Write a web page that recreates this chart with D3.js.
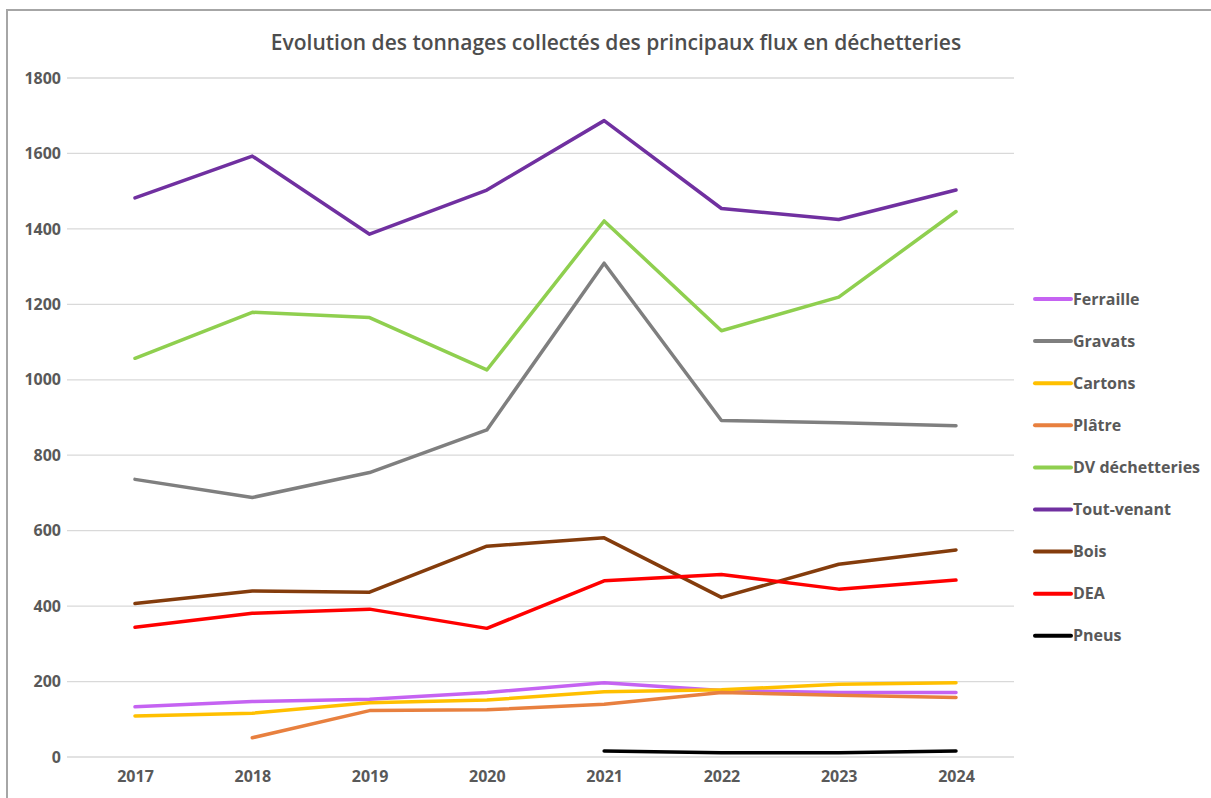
<!DOCTYPE html>
<html>
<head>
<meta charset="utf-8">
<script src="https://cdn.jsdelivr.net/npm/d3@7"></script>
<style>
  body { margin: 0; background: #fff; }
  svg { display: block; font-family: "Open Sans", sans-serif; }
</style>
</head>
<body>
<svg id="chart" width="1211" height="798"></svg>
<script>
// data
var years = ["2017", "2018", "2019", "2020", "2021", "2022", "2023", "2024"];
var yTicks = [0, 200, 400, 600, 800, 1000, 1200, 1400, 1600, 1800];

var ferraille   = [133, 147, 153, 171, 197, 176, 171, 171];
var gravats     = [736, 688, 754, 867, 1309, 892, 886, 878];
var cartons     = [109, 116, 144, 151, 173, 178, 193, 197];
var platre      = [null, 51, 123, 125, 140, 171, 164, 158];
var dvDech      = [1057, 1179, 1165, 1026, 1421, 1130, 1219, 1446];
var toutVenant  = [1482, 1593, 1386, 1503, 1687, 1454, 1425, 1503];
var bois        = [407, 440, 437, 559, 581, 423, 511, 549];
var dea         = [344, 381, 392, 341, 467, 484, 445, 469];
var pneus       = [null, null, null, null, 16, 11, 11, 16];

var seriesNames = ["Ferraille", "Gravats", "Cartons", "Plâtre", "DV déchetteries", "Tout-venant", "Bois", "DEA", "Pneus"];
var seriesValues = [ferraille, gravats, cartons, platre, dvDech, toutVenant, bois, dea, pneus];
var seriesColors = ["#c563f2", "#7f7f7f", "#ffc000", "#e8803f", "#8fcf4f", "#7030a0", "#843c0c", "#ff0000", "#000000"];

var svg = d3.select("#chart");

// outer frame
svg.append("rect")
    .attr("x", 7).attr("y", 10)
    .attr("width", 1230).attr("height", 820)
    .attr("fill", "none")
    .attr("stroke", "#a6a6a6")
    .attr("stroke-width", 2);

var x = d3.scalePoint().domain(years).range([135, 956]);
var y = d3.scaleLinear().domain([0, 1800]).range([757, 78]);

// gridlines
svg.append("g")
    .selectAll("line")
    .data(yTicks)
    .enter().append("line")
    .attr("x1", 67).attr("x2", 1014)
    .attr("y1", function(d) { return y(d); })
    .attr("y2", function(d) { return y(d); })
    .attr("stroke", "#d9d9d9")
    .attr("stroke-width", 1.3);

// y axis labels
var yAxis = d3.axisLeft(y).tickValues(yTicks).tickFormat(d3.format("d")).tickSize(0).tickPadding(0);
var gy = svg.append("g").attr("transform", "translate(61,0)").call(yAxis);
gy.select(".domain").remove();
gy.selectAll("text")
    .attr("fill", "#595959")
    .attr("font-size", 16)
    .attr("font-weight", "bold")
    .attr("font-family", "Open Sans, sans-serif");

// x axis labels
var xAxis = d3.axisBottom(x).tickSize(0).tickPadding(0);
var gx = svg.append("g").attr("transform", "translate(0,771)").call(xAxis);
gx.select(".domain").remove();
gx.selectAll("text")
    .attr("fill", "#595959")
    .attr("font-size", 16)
    .attr("font-weight", "bold")
    .attr("font-family", "Open Sans, sans-serif");

// lines
var line = d3.line()
    .defined(function(d) { return d != null; })
    .x(function(d, i) { return x(years[i]); })
    .y(function(d) { return y(d); });

svg.append("g")
    .selectAll("path")
    .data(seriesValues)
    .enter().append("path")
    .attr("d", line)
    .attr("fill", "none")
    .attr("stroke", function(d, i) { return seriesColors[i]; })
    .attr("stroke-width", 3.5)
    .attr("stroke-linejoin", "round")
    .attr("stroke-linecap", "round");

// title
svg.append("text")
    .attr("x", 616).attr("y", 50)
    .attr("text-anchor", "middle")
    .attr("fill", "#4d4d4d")
    .attr("font-size", 21)
    .attr("font-weight", "600")
    .text("Evolution des tonnages collectés des principaux flux en déchetteries");

// legend
var legend = svg.append("g")
    .selectAll("g")
    .data(seriesNames)
    .enter().append("g")
    .attr("transform", function(d, i) { return "translate(1035," + (299 + i * 42.1) + ")"; });

legend.append("line")
    .attr("x1", 0).attr("x2", 36)
    .attr("stroke", function(d, i) { return seriesColors[i]; })
    .attr("stroke-width", 4)
    .attr("stroke-linecap", "round");

legend.append("text")
    .attr("x", 38).attr("dy", "0.35em")
    .attr("fill", "#595959")
    .attr("font-size", 16)
    .attr("font-weight", "bold")
    .text(function(d) { return d; });
</script>
</body>
</html>
